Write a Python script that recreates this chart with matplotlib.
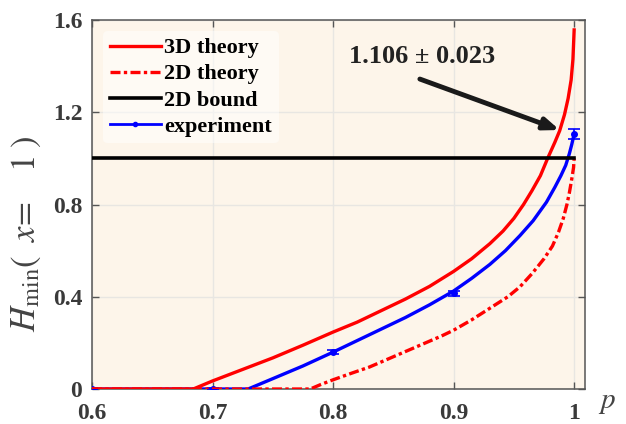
import matplotlib.pyplot as plt

# --- dados ---
p_3d = [0.6, 0.684, 0.70, 0.725, 0.75, 0.775, 0.80, 0.82, 0.84, 0.86, 0.88, 0.90, 0.915,
        0.93, 0.941, 0.95, 0.958, 0.965, 0.972, 0.978, 0.984, 0.988, 0.992, 0.995, 0.9975,
        0.999, 1.0]
h_3d = [0.0, 0.0, 0.035, 0.085, 0.135, 0.19, 0.247, 0.29, 0.34, 0.39, 0.445, 0.51, 0.565,
        0.63, 0.685, 0.74, 0.80, 0.86, 0.925, 1.0, 1.07, 1.12, 1.19, 1.26, 1.34,
        1.43, 1.557]

p_2d = [0.6, 0.781, 0.79, 0.80, 0.815, 0.83, 0.85, 0.87, 0.89, 0.90, 0.915, 0.93, 0.945,
        0.955, 0.965, 0.975, 0.982, 0.987, 0.991, 0.994, 0.996, 0.998, 0.9995, 1.0]
h_2d = [0.0, 0.0, 0.02, 0.04, 0.068, 0.095, 0.14, 0.185, 0.23, 0.255, 0.30, 0.35, 0.40,
        0.443, 0.50, 0.565, 0.62, 0.68, 0.74, 0.80, 0.85, 0.91, 0.96, 1.0]

p_exp_line = [0.6, 0.7295, 0.75, 0.775, 0.80, 0.82, 0.84, 0.86, 0.88, 0.90, 0.915, 0.93,
              0.943, 0.955, 0.966, 0.977, 0.984, 0.989, 0.993, 0.996, 0.998, 1.0]
h_exp_line = [0.0, 0.0, 0.045, 0.10, 0.16, 0.21, 0.26, 0.31, 0.365, 0.425, 0.48, 0.54,
              0.60, 0.665, 0.73, 0.81, 0.875, 0.925, 0.97, 1.02, 1.06, 1.106]

p_exp = [0.6, 0.7, 0.8, 0.9, 1.0]
h_exp = [0.0, 0.0, 0.16, 0.415, 1.106]
h_err = [0.004, 0.004, 0.01, 0.012, 0.023]

p_bound = [0.6, 1.0]
h_bound = [1.0, 1.0]

plt.rcParams['font.family'] = ['Liberation Serif', 'DejaVu Serif']
plt.rcParams['mathtext.fontset'] = 'stix'

fig = plt.figure(figsize=(6.26, 4.24), dpi=100)
ax = fig.add_axes([0.147, 0.0825, 0.7875, 0.8703])
ax.set_facecolor('#fdf5ea')

ax.plot(p_exp_line, h_exp_line, color='#0000ff', lw=2.4, zorder=3)
ax.errorbar(p_exp, h_exp, yerr=h_err, fmt='o', color='#0000ff', ms=4, capsize=4,
            elinewidth=1.2, capthick=1.2, zorder=4)
ax.plot(p_3d, h_3d, color='#ff0000', lw=2.4, zorder=5, label='3D theory')
ax.plot(p_2d, h_2d, color='#ff0000', lw=2.4, ls=(0, (3, 1, 1, 1)), zorder=5,
        label='2D theory')
ax.plot(p_bound, h_bound, color='black', lw=2.6, zorder=6, label='2D bound')
ax.plot([], [], color='#0000ff', lw=2.0, marker='o', ms=3, label='experiment')

ax.set_xlim(0.6, 1.009)
ax.set_ylim(0, 1.6)
ax.set_xticks([0.6, 0.7, 0.8, 0.9, 1.0])
ax.set_xticklabels(['0.6', '0.7', '0.8', '0.9', '1'])
ax.set_yticks([0, 0.4, 0.8, 1.2, 1.6])
ax.set_yticklabels(['0', '0.4', '0.8', '1.2', '1.6'])
ax.tick_params(direction='in', length=5, width=1, colors='#555555', top=True, right=True,
               labelcolor='#3a3a3a', labelsize=17)
ax.tick_params(axis='x', pad=10)
ax.tick_params(axis='y', pad=7)
for lab in ax.get_xticklabels() + ax.get_yticklabels():
    lab.set_fontweight('bold')
for sp in ax.spines.values():
    sp.set_color('#555555')
    sp.set_linewidth(1.1)
ax.grid(True, color='#e8e6e2', lw=1)
ax.set_axisbelow(True)

ax.set_ylabel(r'$H_{\min}\left(\;\;x\!=\quad1\;\right)$', fontsize=25, color='#444444')
ax.yaxis.set_label_coords(-0.10, 0.42)
fig.text(0.97, 0.05, r'$p$', fontsize=21, color='#444444', ha='center', va='center')

# valor medido e seta
ax.text(0.874, 1.44, '1.106 ± 0.023', fontsize=19, fontweight='bold', color='#222222',
        ha='center', va='center')
ax.annotate('', xy=(0.988, 1.123), xytext=(0.872, 1.344),
            arrowprops=dict(arrowstyle='-|>,head_length=0.9,head_width=0.35',
                            color='#1a1a1a', lw=3.5, shrinkA=0, shrinkB=0))

leg = ax.legend(loc='upper left', prop={'weight': 'bold', 'size': 16},
                frameon=True, framealpha=0.5, facecolor='white', edgecolor='none',
                handlelength=2.3, handletextpad=0.15, labelspacing=0.25,
                borderpad=0.3, borderaxespad=0.5)

plt.savefig('out.png', dpi=100)
